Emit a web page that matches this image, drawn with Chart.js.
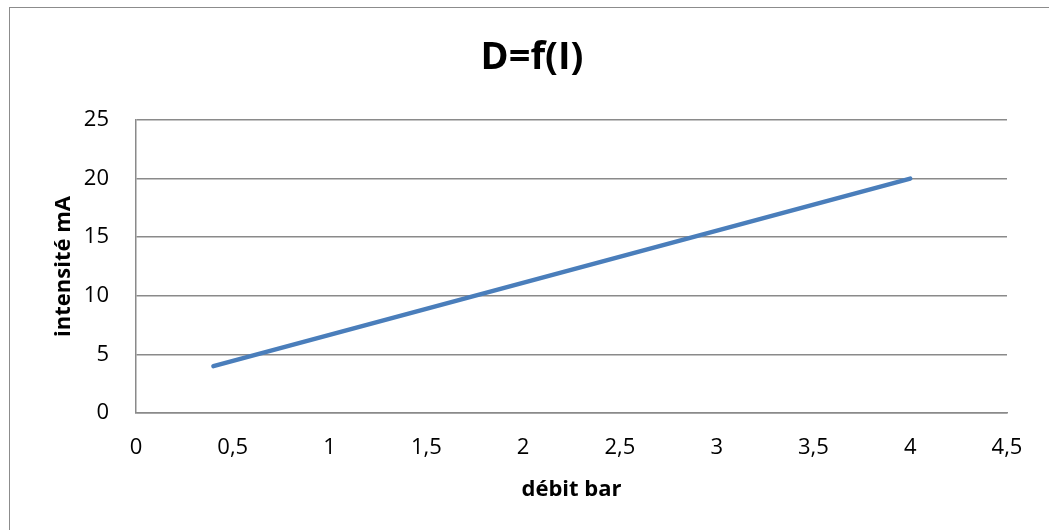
<!DOCTYPE html>
<html>
<head>
<meta charset="utf-8">
<title>D=f(I)</title>
<script src="https://cdn.jsdelivr.net/npm/chart.js@4/dist/chart.umd.min.js"></script>
<style>
  html, body { margin: 0; padding: 0; background: #fff; overflow: hidden; }
  body { width: 1049px; height: 530px; position: relative; }
  #frame {
    position: absolute; left: 9px; top: 7px;
    width: 1044px; height: 530px;
    border: 1px solid #8c8c8c; background: #fff;
  }
  #mychart { display: block; }
</style>
</head>
<body>
<div id="frame">
  <canvas id="mychart" width="1044" height="522"></canvas>
</div>
<script>
// data
var debit = [0.4, 4];        // bar
var intensite = [4, 20];     // mA
var xTicks = [0, 0.5, 1, 1.5, 2, 2.5, 3, 3.5, 4, 4.5];
var yTicks = [0, 5, 10, 15, 20, 25];

var points = debit.map(function (d, i) {
  return { x: d, y: intensite[i] };
});

var gridGrey = '#8a8a8a';
var family = '"Open Sans", "DejaVu Sans", sans-serif';

function comma(v) {
  return String(v).replace('.', ',');
}

var context = document.getElementById("mychart").getContext("2d");
var chart = new Chart(context, {
  type: 'line',
  data: {
    datasets: [
      {
        label: 'intensité',
        data: points,
        borderColor: '#4a7ebb',
        borderWidth: 4.5,
        borderCapStyle: 'round',
        pointRadius: 0,
        fill: false,
        tension: 0
      }
    ]
  },
  options: {
    responsive: false,
    animation: false,
    layout: { padding: 0 },
    plugins: {
      legend: { display: false },
      tooltip: { enabled: false },
      title: {
        display: true,
        text: 'D=f(I)',
        color: '#000',
        font: { family: family, size: 38, weight: 'bold', lineHeight: 1.2 },
        padding: { top: 27, bottom: 39.4 }
      }
    },
    scales: {
      x: {
        type: 'linear',
        min: xTicks[0],
        max: xTicks[xTicks.length - 1],
        afterBuildTicks: function (axis) {
          axis.ticks = xTicks.map(function (v) { return { value: v }; });
        },
        afterFit: function (axis) { axis.height = 117; },
        grid: { display: false, drawTicks: false },
        border: { display: true, color: gridGrey, width: 1.5 },
        ticks: {
          autoSkip: false,
          maxRotation: 0,
          padding: 22,
          color: '#000',
          font: { family: family, size: 22 },
          callback: function (v) { return comma(v); }
        },
        title: {
          display: true,
          text: 'débit bar',
          color: '#000',
          font: { family: family, size: 22, weight: 'bold', lineHeight: 1.2 },
          padding: { top: 0, bottom: 26.8 }
        }
      },
      y: {
        type: 'linear',
        min: yTicks[0],
        max: yTicks[yTicks.length - 1],
        afterBuildTicks: function (axis) {
          axis.ticks = yTicks.map(function (v) { return { value: v }; });
        },
        afterFit: function (axis) { axis.width = 126; },
        grid: { display: true, drawTicks: false, color: gridGrey, lineWidth: 1.5 },
        border: { display: true, color: gridGrey, width: 1.5 },
        ticks: {
          padding: 27,
          color: '#000',
          font: { family: family, size: 22 },
          callback: function (v) { return comma(v); }
        },
        title: {
          display: true,
          text: 'intensité mA',
          color: '#000',
          font: { family: family, size: 22, weight: 'bold', lineHeight: 1.2 },
          padding: { top: 41, bottom: 0 }
        }
      },
      // empty right-hand margin so the title stays centred on the whole frame
      marge: {
        type: 'linear',
        position: 'right',
        display: true,
        afterFit: function (axis) { axis.width = 47; },
        grid: { display: false, drawTicks: false },
        border: { display: false },
        ticks: { display: false }
      }
    }
  }
});
</script>
</body>
</html>
